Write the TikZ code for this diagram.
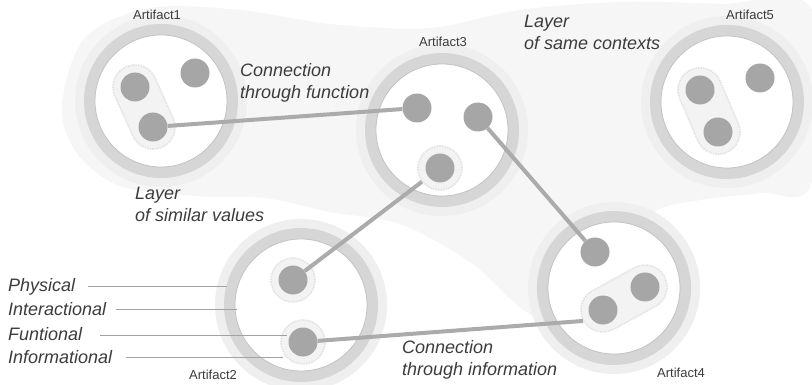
\documentclass[tikz,border=0pt]{standalone}
\usepackage{fontspec}
\setmainfont{Liberation Sans}
\usetikzlibrary{shapes.misc,calc}

\definecolor{blobgrey}{HTML}{F6F6F6}
\definecolor{halogrey}{HTML}{EFEFEF}
\definecolor{ringgrey}{HTML}{D6D6D6}
\definecolor{ringedge}{HTML}{C2C2C2}
\definecolor{dotgrey}{HTML}{A6A6A6}
\definecolor{linkgrey}{HTML}{ABABAB}
\definecolor{groupfill}{HTML}{F3F3F3}
\definecolor{groupedge}{HTML}{E3E3E3}
\definecolor{textgrey}{HTML}{3C3C3C}
\definecolor{leadgrey}{HTML}{A2A2A2}

\tikzset{
  dot/.style={circle, fill=dotgrey, minimum size=29pt, inner sep=0pt},
  dothalo/.style={circle, fill=groupfill, draw=groupedge, densely dotted,
    line width=1.6pt, minimum size=44pt, inner sep=0pt},
  capsule/.style={rounded rectangle, fill=groupfill, draw=groupedge, densely dotted,
    line width=1.6pt, minimum height=44pt, inner sep=0pt},
  link/.style={draw=linkgrey, line width=4pt},
  leader/.style={draw=leadgrey, line width=0.8pt},
  layertext/.style={font=\fontsize{18}{22}\selectfont\itshape, text=textgrey,
    align=left, anchor=north west, inner sep=0pt},
  sidetext/.style={font=\fontsize{18}{22}\selectfont\itshape, text=textgrey,
    anchor=base west, inner sep=0pt},
  arttext/.style={font=\fontsize{13}{15}\selectfont, text=textgrey, inner sep=0pt},
}

% one artifact: halo, grey ring and white interior
\newcommand\artifactring[1]{%
  \fill[halogrey] (#1) circle (86pt);
  \fill[ringgrey] (#1) circle (77pt);
  \fill[white] (#1) circle (66pt);
  \draw[ringedge, line width=0.8pt] (#1) circle (66pt);
}

\begin{document}
\begin{tikzpicture}[x=1pt,y=-1pt]
\useasboundingbox (0,0) rectangle (812,385);
\fill[white] (0,0) rectangle (812,385);

% shared layer of contexts behind artifacts 1, 3, 5 and 4
\fill[blobgrey] plot[smooth cycle, tension=0.55] coordinates {
  (62,105) (85,38) (150,8) (240,10) (330,24) (430,28) (520,10) (620,2)
  (720,4) (812,10) (812,182) (760,193) (700,200) (650,215) (600,280)
  (540,318) (470,262) (400,224) (330,212) (265,198) (195,196) (120,186) (76,152)};

% artifacts
\coordinate (c1) at (161,101);
\coordinate (c3) at (442,130);
\coordinate (c5) at (727,102);
\coordinate (c2) at (301,305);
\coordinate (c4) at (614,288);
\artifactring{c1}
\artifactring{c3}
\artifactring{c5}
\artifactring{c2}
\artifactring{c4}

% groups of similar values
\node[capsule, minimum width=88pt, rotate=-65.8] (g1) at (144,107) {};
\node[capsule, minimum width=90pt, rotate=-66.8] (g5) at (709,111) {};
\node[capsule, minimum width=92pt, rotate=28.7] (g4) at (624,298.5) {};
\node[dothalo] (h3) at (440,168) {};
\node[dothalo] (h2a) at (293,280) {};
\node[dothalo] (h2b) at (303,342) {};

% value dots
\node[dot] (a1a) at (135,87) {};
\node[dot] (a1b) at (195,73) {};
\node[dot] (a1c) at (153,127) {};
\node[dot] (a3a) at (417,108) {};
\node[dot] (a3b) at (478,117) {};
\node[dot] (a3c) at (440,168) {};
\node[dot] (a5a) at (700,90) {};
\node[dot] (a5b) at (760,78) {};
\node[dot] (a5c) at (718,132) {};
\node[dot] (a2a) at (293,280) {};
\node[dot] (a2b) at (303,342) {};
\node[dot] (a4a) at (595,252) {};
\node[dot] (a4b) at (645,287) {};
\node[dot] (a4c) at (603,310) {};

% connections between artifacts
\draw[link] (a1c) -- (a3a);
\draw[link] (a3b) -- (a4a);
\draw[link] (a2a) -- (h3);
\draw[link] (a2b) -- (g4.west);

% artifact names
\node[arttext] (n1) at (157,15) {Artifact1};
\node[arttext] (n3) at (443,42) {Artifact3};
\node[arttext] (n5) at (750,15) {Artifact5};
\node[arttext] (n2) at (213,375) {Artifact2};
\node[arttext] (n4) at (681,373) {Artifact4};

% layer and connection captions
\node[layertext] (t1) at (240,63.5) {Connection\\through function};
\node[layertext] (t2) at (135,187) {Layer\\of similar values};
\node[layertext] (t3) at (524,15) {Layer\\of same contexts};
\node[layertext] (t4) at (402,340) {Connection\\through information};

% layer legend with leaders
\node[sidetext] (lp) at (8,291) {Physical};
\node[sidetext] (li) at (8,315) {Interactional};
\node[sidetext] (lf) at (8,340) {Funtional};
\node[sidetext] (lo) at (8,363) {Informational};
\coordinate (ep) at (227,0);
\coordinate (ei) at (237,0);
\coordinate (ef) at (287,0);
\coordinate (eo) at (283,0);
\draw[leader] ([xshift=13pt,yshift=5pt]lp.base east) -- ([yshift=5pt]lp.base -| ep);
\draw[leader] ([xshift=10pt,yshift=6pt]li.base east) -- ([yshift=6pt]li.base -| ei);
\draw[leader] ([xshift=18pt,yshift=5pt]lf.base east) -- ([yshift=5pt]lf.base -| ef);
\draw[leader] ([xshift=14pt,yshift=6pt]lo.base east) -- ([yshift=6pt]lo.base -| eo);
\end{tikzpicture}
\end{document}
